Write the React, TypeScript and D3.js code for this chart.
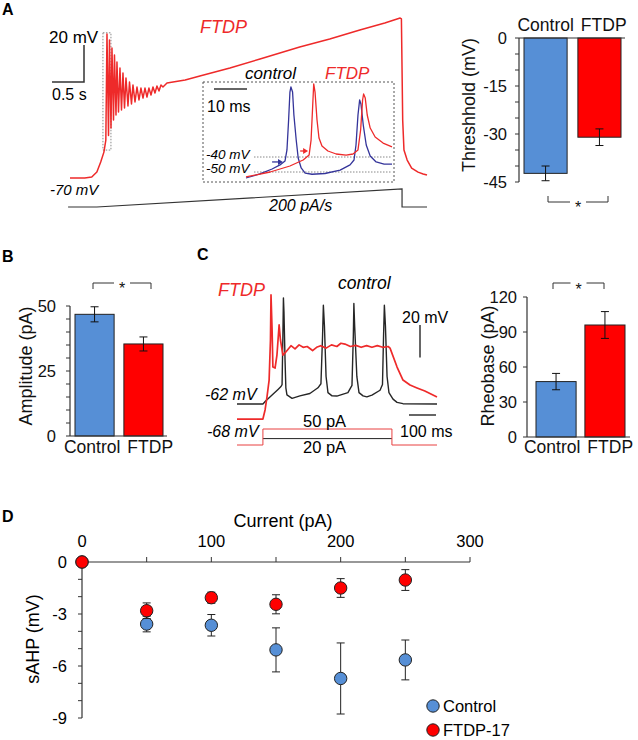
import React from "react";
import * as d3 from "d3";

type Pt = [number, number];

const FONT = "'Liberation Sans', Arial, Helvetica, sans-serif";
const BLUE = "#568fd6";
const RED = "#ff0000";
const TRACE_RED = "#ee2a2a";
const INSET_BLUE = "#34349a";
const AXIS = "#333";

// ---- bar charts ----
const groups = ["Control", "FTDP"];
const thresholdMean = [-42.3, -31.0];
const thresholdSem = [2.3, 2.6];
const amplitudeMean = [46.8, 35.4];
const amplitudeSem = [2.9, 2.7];
const rheobaseMean = [47.5, 96];
const rheobaseSem = [7, 11.5];

// ---- sAHP vs current ----
const sahpCurrent = [0, 50, 100, 150, 200, 250];
const sahpControl = [0, -3.58, -3.65, -5.07, -6.72, -5.65];
const sahpControlSem = [0, 0.45, 0.62, 1.27, 2.05, 1.15];
const sahpFtdp = [0, -2.81, -2.06, -2.44, -1.5, -1.04];
const sahpFtdpSem = [0, 0.45, 0.32, 0.55, 0.54, 0.6];

// ---- A: ramp recording (s, mV) ----
const rampTraceA: Pt[] = [
  [0, -70], [0.23, -70], [0.34, -69.5], [0.42, -66.8], [0.48, -61.4], [0.53, -56], [0.56, -49.5],
  [0.578, 7.8], [0.602, -47], [0.617, 4.6], [0.641, -43], [0.656, 0.3], [0.68, -38.6],
  [0.695, -3.5], [0.719, -35.9], [0.734, -7.3], [0.758, -34.3], [0.781, -10.5], [0.805, -33.2],
  [0.828, -13.2], [0.852, -32.2], [0.875, -15.9], [0.906, -31.1], [0.93, -18.1], [0.961, -30],
  [0.984, -19.7], [1.016, -28.9], [1.047, -20.8], [1.078, -27.8], [1.109, -21.4], [1.141, -26.8],
  [1.172, -21.4], [1.203, -26.2], [1.234, -21.4], [1.266, -25.1], [1.297, -20.8], [1.328, -24.1],
  [1.359, -20.3], [1.391, -23], [1.422, -19.7], [1.453, -20.8],
  [1.516, -18.6], [1.8, -17], [2.03, -14.9], [2.5, -10.5], [2.97, -5.7], [3.59, 0.8],
  [4.06, 5.1], [4.53, 10], [4.92, 13.8], [5.16, 16.5], [5.18, 16], [5.2, -38.6], [5.22, -54.9],
  [5.27, -60.3], [5.34, -64.6], [5.44, -66.8], [5.52, -67.8], [5.58, -68.4],
];
const rampCommandA: Pt[] = [[-0.03, 0], [0.42, 0], [5.19, 950], [5.19, 0], [5.58, 0]];

// inset (ms, mV)
const insetControl: Pt[] = [
  [0, -54], [4.2, -51.3], [7.9, -48], [10.3, -45.3], [11.8, -42.7], [12.4, -35.3], [12.9, -15.3],
  [13.3, 3.3], [13.6, 6.7], [14.1, 3.3], [14.5, -12], [15.2, -28.7], [15.8, -40.7], [16.7, -47.3],
  [17.9, -50.7], [20, -51.5], [23.9, -51], [28.5, -48.7], [31.5, -45.3], [32.7, -42], [33.3, -32],
  [33.9, -12], [34.4, -2], [34.8, -4.7], [35.5, -18.7], [36.4, -32], [37.6, -39.3], [39.4, -43.3],
  [41.8, -44.7], [44.2, -44.7],
];
const insetFtdp: Pt[] = [
  [0, -53.3], [7.3, -50], [13.3, -46], [17.3, -42], [19.1, -38.7], [19.7, -28.7], [20.2, -5.3],
  [20.5, 8.7], [20.9, 3.3], [21.5, -15.3], [22.1, -27.3], [23, -32.7], [24.8, -36], [27.3, -38],
  [30.3, -38.7], [32.4, -38], [33.9, -35.3], [34.7, -22], [35.3, -2], [35.6, 2], [36.1, -0.7],
  [36.7, -12], [37.6, -20.7], [39.1, -26.7], [41.5, -30.7], [44.2, -33.3],
];
const thresholdArrows = [
  { from: [7.9, -43.3] as Pt, to: [11.2, -43.3] as Pt, color: INSET_BLUE },
  { from: [16.4, -36] as Pt, to: [18.8, -36] as Pt, color: TRACE_RED },
];

// ---- C: step recordings (ms, mV) ----
const stepControl: Pt[] = [
  [0, -62], [96, -62], [107, -60], [122, -57.7], [152, -53], [163, -51.2], [167, -50], [170, -20],
  [172, 3.5], [174, -5], [178, -35], [181, -52], [185, -56.4], [204, -58.5], [233, -57], [270, -55.5],
  [300, -52], [311, -49.5], [317, -20], [320, -1], [324, -14], [330, -45], [337, -55], [352, -57],
  [370, -57.1], [411, -55], [426, -50.5], [431, -20], [433, 0], [436, -14], [444, -45], [452, -55],
  [467, -57], [481, -57.6], [500, -56.5], [530, -53.5], [539, -50], [543, -20], [546, -1], [550, -14],
  [556, -45], [563, -55], [578, -59], [593, -61], [615, -61.8], [741, -62],
];
const stepFtdp: Pt[] = [
  [0, -71.3], [96, -71.3], [104, -65.7], [111, -57.7], [119, -47.2], [124, -22.5], [126, 5.3],
  [130, -16.3], [133, -39.2], [141, -39.8], [148, -31.8], [156, -13.2], [161, -22.5], [170, -31.8],
  [181, -29.9], [200, -26], [215, -28], [230, -25.5], [245, -27], [260, -26.5], [280, -29],
  [295, -27], [310, -26], [330, -27.5], [350, -25.5], [370, -26.5], [385, -24.5], [400, -25],
  [420, -26.5], [440, -25.8], [460, -27], [480, -26], [500, -27], [520, -26], [540, -27],
  [560, -26.5], [567, -27.5], [593, -39.2], [615, -47.2], [641, -50.3], [667, -52.1], [696, -54],
  [741, -57.7],
];
const stepCommand50: Pt[] = [[0, 0], [96, 0], [96, 50], [574, 50], [574, 0], [741, 0]];
const stepCommand20: Pt[] = [[96, 20], [574, 20]];

// ---- scales ----
const xA = d3.scaleLinear().domain([0, 5.58]).range([70, 427]);
const yA = d3.scaleLinear().domain([-70, 16.5]).range([178, 18]);
const yCmdA = d3.scaleLinear().domain([0, 950]).range([207, 189]);
const xIn = d3.scaleLinear().domain([0, 44.2]).range([246, 392]);
const yIn = d3.scaleLinear().domain([-50, -40]).range([172, 157]);
const xC = d3.scaleLinear().domain([0, 741]).range([237, 437]);
const yC = d3.scaleLinear().domain([-62, -42]).range([404, 371.6]);
const yCmdC = d3.scaleLinear().domain([0, 50]).range([445, 429]);

function Trace({ data, xs, ys, color, width = 1.2 }: any) {
  const gen = d3.line<Pt>().x((d) => xs(d[0])).y((d) => ys(d[1]));
  return <path d={gen(data) || ""} fill="none" stroke={color} strokeWidth={width} strokeLinejoin="round" />;
}

function BarPanel(p: any) {
  const { ys, xs, means, sems, axisX, axisRight, major, minor, labelGap, catY, title, titleX, titleY, bracket, bracketY, bracketDir, starY } = p;
  const zeroY = ys(0);
  const dom = ys.domain();
  const mid = (bracket[0] + bracket[1]) / 2;
  return (
    <g>
      {means.map((m: number, i: number) => (
        <rect key={i} x={xs(groups[i])} width={xs.bandwidth()} y={Math.min(ys(m), zeroY)}
          height={Math.abs(ys(m) - zeroY)} fill={i === 0 ? BLUE : RED} stroke="#222" strokeWidth={1} />
      ))}
      {means.map((m: number, i: number) => {
        const cx = xs(groups[i]) + xs.bandwidth() / 2;
        return (
          <path key={i} d={`M${cx - 4},${ys(m + sems[i])}H${cx + 4}M${cx},${ys(m + sems[i])}V${ys(m - sems[i])}M${cx - 4},${ys(m - sems[i])}H${cx + 4}`}
            stroke="#111" strokeWidth={1} fill="none" />
        );
      })}
      <line x1={axisX} x2={axisX} y1={ys(dom[0])} y2={ys(dom[1])} stroke={AXIS} strokeWidth={1.2} />
      <line x1={axisX} x2={axisRight} y1={zeroY} y2={zeroY} stroke={AXIS} strokeWidth={1.2} />
      {minor.map((t: number) => (
        <line key={t} x1={axisX - 4} x2={axisX} y1={ys(t)} y2={ys(t)} stroke={AXIS} strokeWidth={1} />
      ))}
      {major.map((t: number) => (
        <text key={t} x={axisX - labelGap} y={ys(t)} dy="0.36em" textAnchor="end" fontSize={16.5} fill="#111">{t}</text>
      ))}
      <text x={(axisX + axisRight) / 2} y={catY} textAnchor="middle" fontSize={17.5} fill="#111">
        {groups.map((g, i) => <tspan key={g} dx={i ? 7 : 0}>{g}</tspan>)}
      </text>
      <text transform={`translate(${titleX},${titleY}) rotate(-90)`} textAnchor="middle" dominantBaseline="central" fontSize={18} fill="#111">{title}</text>
      <path d={`M${bracket[0]},${bracketY + bracketDir * 6}V${bracketY}H${mid - 8}M${mid + 8},${bracketY}H${bracket[1]}V${bracketY + bracketDir * 6}`}
        stroke="#333" strokeWidth={1} fill="none" />
      <text x={mid} y={starY} textAnchor="middle" fontSize={16} fill="#111">*</text>
    </g>
  );
}

function PanelA() {
  const lineCmd = d3.line<Pt>().x((d) => xA(d[0])).y((d) => yCmdA(d[1]));
  const barH = yA(-70) - yA(-50);
  const barW = xA(0.5) - xA(0);
  const msBar = xIn(10) - xIn(0);
  return (
    <g>
      <text x={2} y={15} fontWeight="bold" fontSize={16}>A</text>
      <text x={200} y={33} fill={TRACE_RED} fontStyle="italic" fontSize={18}>FTDP</text>
      <text x={49} y={43} fontSize={17}>20 mV</text>
      <path d={`M${84 - barW},82H84V${82 - barH}`} stroke={AXIS} strokeWidth={1.5} fill="none" />
      <text x={52} y={100} fontSize={16}>0.5 s</text>
      <text x={50} y={195} fontSize={15} fontStyle="italic">-70 mV</text>
      <rect x={xA(0.515)} y={yA(8.5)} width={xA(0.64) - xA(0.515)} height={yA(-54.9) - yA(8.5)}
        fill="none" stroke="#888" strokeWidth={1} strokeDasharray="1.5 1.5" />
      <Trace data={rampTraceA} xs={xA} ys={yA} color={TRACE_RED} width={1.5} />
      <path d={lineCmd(rampCommandA) || ""} fill="none" stroke={AXIS} strokeWidth={1.2} />
      <text x={269} y={211} fontSize={16} fontStyle="italic">200 pA/s</text>

      {/* inset */}
      <rect x={203} y={82} width={191} height={100} fill="none" stroke="#555" strokeWidth={1} strokeDasharray="2 2" />
      {[-40, -50].map((v) => (
        <g key={v}>
          <line x1={254} x2={392} y1={yIn(v)} y2={yIn(v)} stroke="#888" strokeWidth={1} strokeDasharray="1.5 1.5" />
          <text x={206} y={yIn(v) + (v === -40 ? 1.5 : 1)} fontSize={13.5} fontStyle="italic">{`${v} mV`}</text>
        </g>
      ))}
      <line x1={214} x2={214 + msBar} y1={89} y2={89} stroke={AXIS} strokeWidth={1.3} />
      <text x={207} y={112} fontSize={16}>10 ms</text>
      <text x={245} y={79} fontSize={17} fontStyle="italic">control</text>
      <text x={325} y={79} fontSize={17} fontStyle="italic" fill={TRACE_RED}>FTDP</text>
      <Trace data={insetControl} xs={xIn} ys={yIn} color={INSET_BLUE} width={1.3} />
      <Trace data={insetFtdp} xs={xIn} ys={yIn} color={TRACE_RED} width={1.3} />
      {thresholdArrows.map((a, i) => {
        const x0 = xIn(a.from[0]), x1 = xIn(a.to[0]), y = yIn(a.to[1]);
        return (
          <g key={i}>
            <line x1={x0} x2={x1 - 3} y1={y} y2={y} stroke={a.color} strokeWidth={1.3} />
            <path d={`M${x1},${y}L${x1 - 5},${y - 3}L${x1 - 5},${y + 3}Z`} fill={a.color} />
          </g>
        );
      })}
    </g>
  );
}

function PanelC() {
  const lineCmd = d3.line<Pt>().x((d) => xC(d[0])).y((d) => yCmdC(d[1]));
  const mvBar = yC(-62) - yC(-42);
  const msBar = xC(100) - xC(0);
  return (
    <g>
      <text x={197} y={260} fontWeight="bold" fontSize={16}>C</text>
      <text x={218} y={296} fontSize={18} fontStyle="italic" fill={TRACE_RED}>FTDP</text>
      <text x={338} y={289} fontSize={17.5} fontStyle="italic">control</text>
      <text x={402} y={323} fontSize={16}>20 mV</text>
      <line x1={420} x2={420} y1={325} y2={325 + mvBar} stroke={AXIS} strokeWidth={1.5} />
      <line x1={409} x2={409 + msBar} y1={415} y2={415} stroke={AXIS} strokeWidth={1.5} />
      <text x={400} y={437} fontSize={16}>100 ms</text>
      <text x={205} y={400} fontSize={16} fontStyle="italic">-62 mV</text>
      <text x={207} y={437} fontSize={16} fontStyle="italic">-68 mV</text>
      <Trace data={stepControl} xs={xC} ys={yC} color="#262626" width={1.4} />
      <Trace data={stepFtdp} xs={xC} ys={yC} color={TRACE_RED} width={1.7} />
      <path d={lineCmd(stepCommand20) || ""} fill="none" stroke="#222" strokeWidth={1} />
      <path d={lineCmd(stepCommand50) || ""} fill="none" stroke="#e84040" strokeWidth={1} />
      <text x={303} y={427} fontSize={16.5}>50 pA</text>
      <text x={303} y={452.5} fontSize={16.5}>20 pA</text>
    </g>
  );
}

function PanelD() {
  const xD = d3.scaleLinear().domain([0, 300]).range([82, 470]);
  const yD = d3.scaleLinear().domain([-9, 0]).range([718, 562]);
  const series = [
    { name: "Control", mean: sahpControl, sem: sahpControlSem, color: BLUE },
    { name: "FTDP-17", mean: sahpFtdp, sem: sahpFtdpSem, color: RED },
  ];
  return (
    <g>
      <text x={2} y={522} fontWeight="bold" fontSize={16}>D</text>
      <text x={283} y={527} textAnchor="middle" fontSize={18}>Current (pA)</text>
      <line x1={xD(0)} x2={xD(300)} y1={yD(0)} y2={yD(0)} stroke={AXIS} strokeWidth={1.2} />
      {d3.range(50, 301, 50).map((t) => (
        <line key={t} x1={xD(t)} x2={xD(t)} y1={yD(0)} y2={yD(0) - 5} stroke={AXIS} strokeWidth={1} />
      ))}
      {xD.ticks(3).map((t) => (
        <text key={t} x={xD(t)} y={547} textAnchor="middle" fontSize={16.5}>{t}</text>
      ))}
      <line x1={xD(0)} x2={xD(0)} y1={yD(0)} y2={yD(-9)} stroke={AXIS} strokeWidth={1.2} />
      {d3.range(-9, 0).map((t) => (
        <line key={t} x1={xD(0) - 4} x2={xD(0)} y1={yD(t)} y2={yD(t)} stroke={AXIS} strokeWidth={1} />
      ))}
      {[0, -3, -6, -9].map((t) => (
        <text key={t} x={67} y={yD(t)} dy="0.36em" textAnchor="end" fontSize={16.5}>{t}</text>
      ))}
      <text transform="translate(33,639) rotate(-90)" textAnchor="middle" dominantBaseline="central" fontSize={18}>sAHP (mV)</text>
      {series.map((s) => (
        <g key={s.name}>
          {sahpCurrent.map((c, i) => s.sem[i] > 0 && (
            <path key={c} d={`M${xD(c) - 4},${yD(s.mean[i] + s.sem[i])}H${xD(c) + 4}M${xD(c)},${yD(s.mean[i] + s.sem[i])}V${yD(s.mean[i] - s.sem[i])}M${xD(c) - 4},${yD(s.mean[i] - s.sem[i])}H${xD(c) + 4}`}
              stroke="#222" strokeWidth={1} fill="none" />
          ))}
          {sahpCurrent.map((c, i) => (
            <circle key={c} cx={xD(c)} cy={yD(s.mean[i])} r={6.2} fill={s.color} stroke="#222" strokeWidth={1} />
          ))}
        </g>
      ))}
      {series.map((s, i) => (
        <g key={s.name}>
          <circle cx={433} cy={706 + i * 24} r={6.2} fill={s.color} stroke="#222" strokeWidth={1} />
          <text x={443} y={712 + i * 24} fontSize={16.5}>{s.name}</text>
        </g>
      ))}
    </g>
  );
}

export default function App() {
  const yThr = d3.scaleLinear().domain([-45, 0]).range([182, 38]);
  const xThr = d3.scaleBand().domain(groups).range([524, 621]).paddingInner(0.2);
  const yAmp = d3.scaleLinear().domain([0, 50]).range([436, 306]);
  const xAmp = d3.scaleBand().domain(groups).range([75, 163]).paddingInner(0.2);
  const yRh = d3.scaleLinear().domain([0, 120]).range([437, 297]);
  const xRh = d3.scaleBand().domain(groups).range([536, 625]).paddingInner(0.18);
  return (
    <svg width={638} height={740} viewBox="0 0 638 740" fontFamily={FONT}
      style={{ position: "absolute", left: 0, top: 0, display: "block", background: "#fff" }}>
      <PanelA />
      <BarPanel ys={yThr} xs={xThr} means={thresholdMean} sems={thresholdSem} axisX={519} axisRight={625}
        major={[0, -15, -30, -45]} minor={d3.range(-45, 1, 5)} labelGap={12} catY={31}
        title="Threshhold (mV)" titleX={469} titleY={105}
        bracket={[548, 608]} bracketY={202} bracketDir={-1} starY={213} />
      <text x={2} y={262} fontWeight="bold" fontSize={16}>B</text>
      <BarPanel ys={yAmp} xs={xAmp} means={amplitudeMean} sems={amplitudeSem} axisX={70} axisRight={167}
        major={[0, 25, 50]} minor={d3.range(0, 51, 5)} labelGap={14} catY={453}
        title="Amplitude (pA)" titleX={26} titleY={366}
        bracket={[93, 151]} bracketY={283} bracketDir={1} starY={294} />
      <PanelC />
      <BarPanel ys={yRh} xs={xRh} means={rheobaseMean} sems={rheobaseSem} axisX={527} axisRight={630}
        major={[0, 30, 60, 90, 120]} minor={[0, 30, 60, 90, 120]} labelGap={10} catY={453}
        title="Rheobase (pA)" titleX={488} titleY={366}
        bracket={[553, 604]} bracketY={283} bracketDir={1} starY={295} />
      <PanelD />
    </svg>
  );
}
